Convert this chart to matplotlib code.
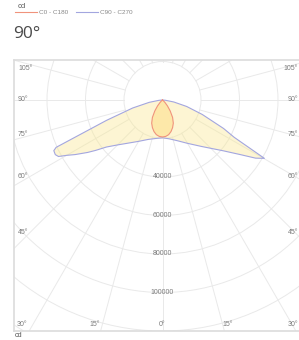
import numpy as np
import matplotlib
matplotlib.use("Agg")
import matplotlib.pyplot as plt
from matplotlib.patches import Circle
from matplotlib.lines import Line2D

# ===============================
# Luminous intensity data (cd), angle from nadir (deg)
# ===============================
# C0 - C180 plane (symmetric, same values both sides)
c0_angles = [0, 5, 10, 15, 20, 25, 30, 35, 40, 45, 50, 55]
c0_cd = [19200, 19000, 18300, 17000, 15300, 13300, 10500, 7000, 4000, 1800, 500, 0]

# C90 side (right)
c90_angles = [0, 10, 20, 30, 40, 45, 50, 55, 58, 60.2, 62.5, 65, 70, 75, 80, 85, 90]
c90_cd = [19600, 20500, 22500, 26000, 31500, 35500, 41000, 49500, 57000, 61000,
          42000, 35000, 22000, 13000, 6000, 1500, 0]

# C270 side (left)
c270_angles = [0, 10, 20, 30, 40, 45, 50, 53, 55, 58, 60, 61.5, 63, 65, 66,
               70, 75, 80, 85, 90]
c270_cd = [19600, 20300, 21800, 24800, 29500, 33000, 38000, 43500, 47500, 53500,
           57500, 61500, 62500, 62300, 60500, 31000, 16000, 7000, 1800, 0]

ring_values = [20000, 40000, 60000, 80000, 100000, 120000, 140000]
ring_labels = [40000, 60000, 80000, 100000]
side_labels = [105, 90, 75, 60, 45]
series_names = ["C0 - C180", "C90 - C270"]

# ===============================
# Geometry (pixel layout of the original)
# ===============================
W, H = 299, 340
S = 519.5          # cd per pixel
CX, CY = 162.5, 100.0
AX_L, AX_R, AX_T, AX_B = 14, 311, 60, 331

def to_data(px, py):
    return (px - CX) * S, (CY - py) * S

def polar_xy(angles, cd, side):
    a = np.radians(np.asarray(angles, float))
    r = np.asarray(cd, float)
    return side * r * np.sin(a), -r * np.cos(a)

red = "#f0937c"
blue = "#a3a6df"
grid_c = "#e9e9e9"
txt_c = "#7a7a7a"

fig = plt.figure(figsize=(W / 100, H / 100), dpi=100)
ax = fig.add_axes([AX_L / W, (H - AX_B) / H, (AX_R - AX_L) / W, (AX_B - AX_T) / H])
x0, y1 = to_data(AX_L, AX_T)
x1, y0 = to_data(AX_R, AX_B)
ax.set_xlim(x0, x1)
ax.set_ylim(y0, y1)
ax.set_xticks([])
ax.set_yticks([])
for sp in ax.spines.values():
    sp.set_color("#dcdcdc")
    sp.set_linewidth(1.2)

# grid circles
for r in ring_values:
    ax.add_patch(Circle((0, 0), r, fill=False, ec=grid_c, lw=0.7, zorder=1))
# radial lines, starting at the first ring
for ang in range(0, 181, 15):
    a = np.radians(ang)
    for side in (-1, 1):
        ax.plot([side * 20000 * np.sin(a), side * 300000 * np.sin(a)],
                [-20000 * np.cos(a), -300000 * np.cos(a)],
                color=grid_c, lw=0.7, zorder=1)

# C90 - C270 curve (left side from 90 down to 0, then right side up to 90)
lx, ly = polar_xy(c270_angles, c270_cd, -1)
rx, ry = polar_xy(c90_angles, c90_cd, 1)
wx = np.concatenate([lx[::-1], rx])
wy = np.concatenate([ly[::-1], ry])
ax.fill(wx, wy, color="#fae891", alpha=0.4, lw=0, zorder=2)
ax.plot(wx, wy, color=blue, lw=0.8, zorder=4)

# C0 - C180 curve
ax_, ay_ = polar_xy(c0_angles, c0_cd, -1)
bx_, by_ = polar_xy(c0_angles, c0_cd, 1)
tx = np.concatenate([ax_[::-1], bx_])
ty = np.concatenate([ay_[::-1], by_])
ax.fill(tx, ty, color="#fdd56a", alpha=0.4, lw=0, zorder=3)
ax.plot(tx, ty, color=red, lw=0.8, zorder=5)

# ring value labels on 0 deg axis
for v in ring_labels:
    ax.text(0, -v, str(v), ha="center", va="center", fontsize=5,
            color=txt_c, family="Liberation Sans", zorder=6)

# angle labels on the sides
side_y = {105: 68, 90: 99.5, 75: 135, 60: 176, 45: 232}
for ang in side_labels:
    xl, yl = to_data(18, side_y[ang])
    ax.text(xl, yl, f"{ang}°", ha="left", va="center", fontsize=5,
            color=txt_c, family="Liberation Sans", zorder=6)
    xr, yr = to_data(298, side_y[ang])
    ax.text(xr, yr, f"{ang}°", ha="right", va="center", fontsize=5,
            color=txt_c, family="Liberation Sans", zorder=6)

# bottom labels
bottom = [("30°", 17, "left"), ("15°", 95, "center"), ("0°", 162.5, "center"),
          ("15°", 228, "center"), ("30°", 298, "right")]
for s, px, ha in bottom:
    xb, yb = to_data(px, 324)
    ax.text(xb, yb, s, ha=ha, va="center", fontsize=5, color=txt_c,
            family="Liberation Sans", zorder=6)

# header texts
fig.text(18 / W, 1 - 7.5 / H, "cd", fontsize=5.5, color="#555555",
         family="Liberation Sans", va="baseline")
fig.text(13 / W, 1 - 37.7 / H, "90°", fontsize=12.5, color="#4a4a4a",
         family="Open Sans", va="baseline")
fig.text(15 / W, 1 - 339 / H, "cd", fontsize=5.2, color="#555555",
         family="Liberation Sans", va="bottom")

handles = [Line2D([], [], color=red, lw=0.8), Line2D([], [], color=blue, lw=0.8)]
leg = fig.legend(handles, series_names, loc="upper left",
                 bbox_to_anchor=(15 / W, 1 - 9.5 / H), ncol=2, frameon=False,
                 prop={"family": "Liberation Sans", "size": 4.6},
                 handlelength=3.4, handletextpad=0.3, columnspacing=1.3,
                 borderpad=0, borderaxespad=0)
for t in leg.get_texts():
    t.set_color("#888888")

fig.savefig("out.png", dpi=100)
